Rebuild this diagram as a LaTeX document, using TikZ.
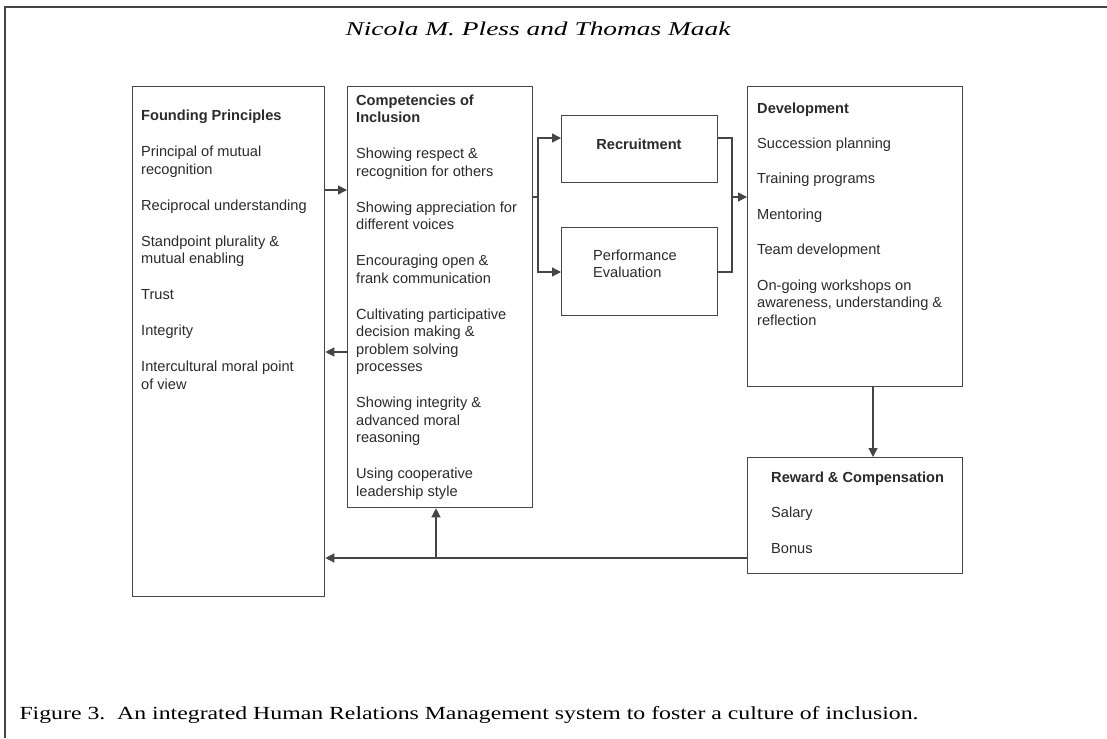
\documentclass[tikz,border=0pt]{standalone}
\usepackage{fontspec}
\setmainfont{Liberation Serif}
\newfontfamily\arialf{Liberation Sans}
\usetikzlibrary{arrows.meta}
\definecolor{ln}{HTML}{454545}
\definecolor{tx}{HTML}{2B2B2B}
\tikzset{
  box/.style={draw=ln, line width=1.3pt, anchor=north west, inner sep=0pt},
  txt/.style={anchor=north west, inner sep=0pt, align=left, text=tx, font=\arialf\fontsize{14.6}{17.5}\selectfont},
  conn/.style={draw=ln, line width=1.3pt},
  arr/.style={conn, -{Triangle[length=9pt,width=9pt]}},
}
\begin{document}
\begin{tikzpicture}[x=1pt,y=-1pt]
\useasboundingbox (0,0) rectangle (1107,738);
\fill[white] (0,0) rectangle (1107,738);
\draw[line width=1.5pt, draw=ln] (5,738) -- (5,7) -- (1107,7);

\node[anchor=base, text=black] (title) at (538,36) {\resizebox{385pt}{\height}{\fontsize{19.5}{22}\selectfont\itshape Nicola M. Pless and Thomas Maak}};

% boxes
\node[box, minimum width=192pt, minimum height=510pt] (fp) at (132,86) {};
\node[box, minimum width=185pt, minimum height=421pt] (comp) at (347,86) {};
\node[box, minimum width=156pt, minimum height=67pt] (rec) at (561,115) {};
\node[box, minimum width=156pt, minimum height=88pt] (perf) at (561,227) {};
\node[box, minimum width=215pt, minimum height=300pt] (dev) at (747,86) {};
\node[box, minimum width=215pt, minimum height=116pt] (rew) at (747,457) {};

% texts (top = first baseline - 10.5)
\node[txt] (fpt) at (141,109.5) {\textbf{Founding Principles}\\[19pt]
Principal of mutual\\ recognition\\[18.5pt]
Reciprocal understanding\\[18.5pt]
Standpoint plurality \&\\ mutual enabling\\[18.5pt]
Trust\\[18.5pt]
Integrity\\[18.5pt]
Intercultural moral point\\ of view};

\node[txt] (compt) at (356,94.5) {\textbf{Competencies of}\\ \textbf{Inclusion}\\[18.5pt]
Showing respect \&\\ recognition for others\\[18.5pt]
Showing appreciation for\\ different voices\\[18.5pt]
Encouraging open \&\\ frank communication\\[18.5pt]
Cultivating participative\\ decision making \&\\ problem solving\\ processes\\[18.5pt]
Showing integrity \&\\ advanced moral\\ reasoning\\[18.5pt]
Using cooperative\\ leadership style};

\node[txt, anchor=base] (rect) at (639,150) {\textbf{Recruitment}};
\node[txt] (perft) at (593,249.5) {Performance\\ Evaluation};

\node[txt] (devt) at (757,102.5) {\textbf{Development}\\[17.5pt]
Succession planning\\[18pt]
Training programs\\[18pt]
Mentoring\\[18pt]
Team development\\[18pt]
On-going workshops on\\ awareness, understanding \&\\ reflection};

\node[txt] (rewt) at (771,471.5) {\textbf{Reward \& Compensation}\\[18pt]
Salary\\[18pt]
Bonus};

% connectors
\coordinate (ya) at (0,190);
\draw[arr] (ya -| fp.east) -- (ya -| comp.west);
\coordinate (yb) at (0,352);
\draw[arr] (yb -| comp.west) -- (yb -| fp.east);
\coordinate (yc) at (0,197);
\coordinate (bl) at (538,197);
\coordinate (br) at (732,197);
\draw[conn] (yc -| comp.east) -- (bl);
\coordinate (yr) at (0,138);
\coordinate (yp) at (0,272);
\draw[arr] (bl) |- (yr -| rec.west);
\draw[arr] (bl) |- (yp -| perf.west);
\draw[conn] (yr -| rec.east) -| (br);
\draw[conn] (yp -| perf.east) -| (br);
\draw[arr] (br) -- (br -| dev.west);
\coordinate (xd) at (873,0);
\draw[arr] (xd |- dev.south) -- (xd |- rew.north);
\coordinate (yf) at (0,558);
\draw[arr] (yf -| rew.west) -- (yf -| fp.east);
\coordinate (xf) at (436,558);
\draw[arr] (xf) -- (xf |- comp.south);

\node[anchor=base west, text=black] (cap) at (16,719) {\resizebox{899pt}{\height}{\fontsize{18.5}{22}\selectfont Figure 3.\ \ An integrated Human Relations Management system to foster a culture of inclusion.}};
\end{tikzpicture}
\end{document}
